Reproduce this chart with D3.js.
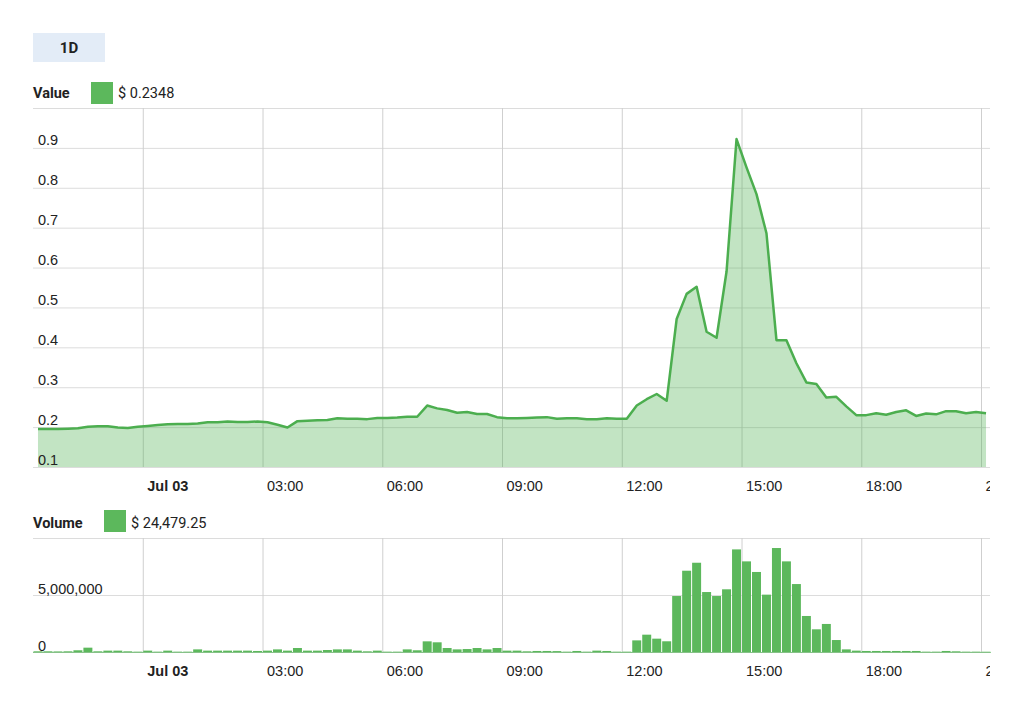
<!DOCTYPE html>
<html>
<head>
<meta charset="utf-8">
<script src="https://cdn.jsdelivr.net/npm/d3@7"></script>
<style>
  html, body { margin: 0; padding: 0; background: #fff; }
  svg { display: block; font-family: Roboto, "Helvetica Neue", Arial, sans-serif; }
</style>
</head>
<body>
<svg id="chart" width="1024" height="710"></svg>
<script>
// ---------- data (15-minute bins, first bin starts Jul 02 21:15) ----------
const binStart = new Date(2019, 6, 2, 21, 15);
const binMinutes = 15;

const prices = [
  0.195, 0.195, 0.195, 0.196, 0.197, 0.201, 0.202, 0.202, 0.199, 0.198,
  0.201, 0.203, 0.205, 0.207, 0.208, 0.208, 0.209, 0.212, 0.212, 0.214,
  0.213, 0.213, 0.214, 0.212, 0.206, 0.199, 0.215, 0.216, 0.217, 0.218,
  0.222, 0.221, 0.221, 0.220, 0.223, 0.223, 0.224, 0.226, 0.226, 0.254,
  0.247, 0.243, 0.236, 0.238, 0.233, 0.233, 0.225, 0.222, 0.222, 0.223,
  0.224, 0.225, 0.221, 0.222, 0.222, 0.220, 0.220, 0.222, 0.221, 0.221,
  0.254, 0.270, 0.283, 0.266, 0.471, 0.534, 0.552, 0.439, 0.424, 0.590,
  0.922, 0.851, 0.784, 0.686, 0.418, 0.418, 0.360, 0.312, 0.308, 0.274,
  0.276, 0.252, 0.230, 0.230, 0.235, 0.231, 0.238, 0.242, 0.228, 0.234,
  0.232, 0.240, 0.240, 0.235, 0.238, 0.2348
];

const volumes = [
  60000, 60000, 50000, 60000, 150000, 380000, 60000, 120000, 120000, 60000,
  30000, 120000, 30000, 120000, 30000, 30000, 230000, 120000, 120000, 120000,
  120000, 120000, 90000, 120000, 230000, 120000, 350000, 120000, 120000, 175000,
  230000, 230000, 120000, 60000, 120000, 30000, 30000, 230000, 150000, 935000,
  850000, 350000, 230000, 260000, 350000, 230000, 350000, 120000, 120000, 60000,
  90000, 90000, 80000, 30000, 90000, 30000, 120000, 90000, 30000, 30000,
  1020000, 1520000, 1170000, 940000, 4910000, 7130000, 7830000, 5260000, 4910000, 5500000,
  9000000, 7950000, 7020000, 5030000, 9120000, 7950000, 5960000, 3160000, 1990000, 2460000,
  1050000, 230000, 120000, 90000, 90000, 90000, 90000, 90000, 90000, 30000,
  30000, 90000, 60000, 30000, 30000, 24479.25
];

const xTickLabels = ["Jul 03", "03:00", "06:00", "09:00", "12:00", "15:00", "18:00", "21:00"];
const xTickTimes = [
  new Date(2019, 6, 3, 0, 0), new Date(2019, 6, 3, 3, 0), new Date(2019, 6, 3, 6, 0),
  new Date(2019, 6, 3, 9, 0), new Date(2019, 6, 3, 12, 0), new Date(2019, 6, 3, 15, 0),
  new Date(2019, 6, 3, 18, 0), new Date(2019, 6, 3, 21, 0)
];
const priceTicks = [0.1, 0.2, 0.3, 0.4, 0.5, 0.6, 0.7, 0.8, 0.9, 1.0];
const volumeTicks = [0, 5000000, 10000000];

const rangeLabel = "1D";
const priceLegend = "$ 0.2348";
const volumeLegend = "$ 24,479.25";

// ---------- layout ----------
const svg = d3.select("#chart");
const left = 33, right = 991;
const pTop = 108, pBottom = 467;
const vTop = 538, vBottom = 652;
const textColor = "#222";
const gridColor = "#dcdcdc";
const lineColor = "#4cae4f";
const barColor = "#5cb85c";

const binMs = binMinutes * 60000;
const rows = prices.map((v, i) => ({
  t0: new Date(binStart.getTime() + i * binMs),
  tc: new Date(binStart.getTime() + (i + 0.5) * binMs),
  t1: new Date(binStart.getTime() + (i + 1) * binMs),
  price: v,
  volume: volumes[i]
}));

const x = d3.scaleTime()
  .domain([binStart, new Date(binStart.getTime() + prices.length * binMs)])
  .range([left, right]);
const yP = d3.scaleLinear().domain([0.1, 1.0]).range([pBottom, pTop]);
const yV = d3.scaleLinear().domain([0, 10000000]).range([vBottom, vTop]);

svg.append("defs").append("clipPath").attr("id", "clipX")
  .append("rect").attr("x", 0).attr("y", 0).attr("width", right - 1).attr("height", 710);

// ---------- range button ----------
svg.append("rect").attr("x", 33).attr("y", 33).attr("width", 72).attr("height", 29)
  .attr("fill", "#e3ecf7");
svg.append("text").attr("x", 69).attr("y", 53).attr("text-anchor", "middle")
  .attr("font-size", 15).attr("font-weight", "bold").attr("fill", textColor).text(rangeLabel);

// ---------- helpers for axes ----------
function drawYGrid(scale, ticks) {
  const g = svg.append("g").attr("transform", `translate(${left},0)`)
    .call(d3.axisLeft(scale).tickValues(ticks).tickSize(-(right - 1 - left)).tickFormat(""));
  g.select(".domain").remove();
  g.selectAll(".tick line").attr("stroke", gridColor).attr("stroke-width", 1);
}
function drawYLabels(scale, ticks, fmt, dy) {
  const g = svg.append("g").attr("transform", `translate(${left},0)`)
    .call(d3.axisLeft(scale).tickValues(ticks).tickSize(0).tickFormat(fmt));
  g.select(".domain").remove();
  g.selectAll(".tick text").attr("x", 5).attr("dy", dy).attr("text-anchor", "start")
    .attr("font-size", 14.5).attr("fill", textColor).attr("font-family", null);
}
function drawXAxis(bottom, top) {
  const g = svg.append("g").attr("transform", `translate(0,${bottom})`)
    .attr("clip-path", null)
    .call(d3.axisBottom(x).tickValues(xTickTimes).tickSize(-(bottom - top))
      .tickFormat((d, i) => xTickLabels[i]));
  g.select(".domain").remove();
  g.selectAll(".tick line").attr("stroke", "#cfcfcf").attr("stroke-width", 1);
  g.selectAll(".tick text").attr("x", 4).attr("y", 24).attr("dy", 0).attr("text-anchor", "start")
    .attr("font-size", 14.5).attr("fill", textColor).attr("font-family", null)
    .attr("font-weight", (d, i) => i === 0 ? "bold" : "normal");
  // clip labels at the plot's right edge, like the reference
  const wrap = svg.append("g").attr("clip-path", "url(#clipX)");
  wrap.node().appendChild(g.node());
  return g;
}

// ---------- price chart ----------
svg.append("text").attr("x", 33).attr("y", 98).attr("font-size", 14.5).attr("font-weight", "bold")
  .attr("fill", textColor).text("Value");
svg.append("rect").attr("x", 91).attr("y", 82).attr("width", 22).attr("height", 22).attr("fill", barColor);
svg.append("text").attr("x", 118).attr("y", 98).attr("font-size", 14.5).attr("fill", textColor).text(priceLegend);

drawYGrid(yP, priceTicks);
drawXAxis(pBottom, pTop);

const area = d3.area().x(d => x(d.tc)).y0(yP(0.1)).y1(d => yP(d.price));
const line = d3.line().x(d => x(d.tc)).y(d => yP(d.price));
svg.append("path").datum(rows).attr("d", area).attr("fill", "#4caf50").attr("fill-opacity", 0.34);
svg.append("path").datum(rows).attr("d", line).attr("fill", "none")
  .attr("stroke", lineColor).attr("stroke-width", 2.5).attr("stroke-linejoin", "round");

drawYLabels(yP, priceTicks, d => d >= 1 ? "" : d3.format(".1f")(d), -3);

// ---------- volume chart ----------
svg.append("text").attr("x", 33).attr("y", 528).attr("font-size", 14.5).attr("font-weight", "bold")
  .attr("fill", textColor).text("Volume");
svg.append("rect").attr("x", 104).attr("y", 510).attr("width", 22).attr("height", 22).attr("fill", barColor);
svg.append("text").attr("x", 131).attr("y", 528).attr("font-size", 14.5).attr("fill", textColor).text(volumeLegend);

drawYGrid(yV, volumeTicks);
drawXAxis(vBottom, vTop);

svg.append("g").selectAll("rect").data(rows).join("rect")
  .attr("x", d => x(d.t0) + 0.5)
  .attr("width", d => x(d.t1) - x(d.t0) - 1)
  .attr("y", d => yV(d.volume))
  .attr("height", d => yV(0) - yV(d.volume))
  .attr("fill", barColor);
svg.append("line").attr("x1", left).attr("x2", right).attr("y1", vBottom + 0.5).attr("y2", vBottom + 0.5)
  .attr("stroke", "#4caf50").attr("stroke-width", 1).attr("stroke-opacity", 0.6);

drawYLabels(yV, volumeTicks, d => d >= 10000000 ? "" : d3.format(",")(d), -2);
</script>
</body>
</html>
